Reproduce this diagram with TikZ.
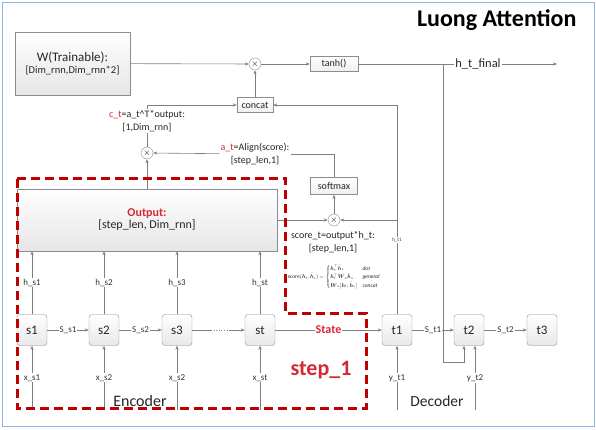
\documentclass[tikz,border=0pt]{standalone}
\usepackage{amsfonts}
\usepackage{amsmath}
\usepackage{fontspec}
\setmainfont{Carlito}
\usepackage{tikz}
\usetikzlibrary{arrows.meta,positioning}
\definecolor{linegray}{HTML}{7F7F7F}
\definecolor{boxline}{HTML}{8C8C8C}
\definecolor{darkred}{HTML}{C00000}
\definecolor{labred}{HTML}{D42A34}
\definecolor{framecol}{HTML}{8DB3E2}

\begin{document}
\begin{tikzpicture}[x=1pt,y=-1pt,>={Stealth[length=4pt,width=3.2pt]},%
                    wire/.style={draw=linegray,line width=.6pt},%
                    gbox/.style={draw=boxline,top color=white,bottom color=gray!20,align=center,text=black!85},%
                    smallbox/.style={draw=boxline,top color=white,bottom color=gray!12,inner sep=1.5pt,font=\fontsize{10}{12}\selectfont,text=black!85},%
                    mult/.style={draw=boxline,circle,fill=white,inner sep=0pt,minimum size=12pt,font=\fontsize{9}{9}\selectfont},%
                    lab/.style={fill=white,inner sep=1pt,font=\fontsize{9}{10}\selectfont,text=black!80},%
                    txt/.style={align=center,font=\fontsize{10}{12.5}\selectfont,text=black!85}]%
                    \useasboundingbox (0,0) rectangle (596,429); %%
                    \draw[framecol,line width=.8pt] (2,2) rectangle (594,426); %%
                    \node[anchor=east,font=\fontsize{24}{28}\selectfont\bfseries] (title) at (580,20) {Luong Attention}; %%
                    % attention part
                    \node[gbox,minimum width=115pt,minimum height=63pt] (W) at (72.5,63.5) {\fontsize{13}{16}\selectfont W(Trainable):\\{}\fontsize{10.5}{13}\selectfont [Dim\_rnn,Dim\_rnn*2]}; %%
                    \node[mult] (m1) at (255,64) {$\times$}; %%
                    \node[smallbox,minimum width=48pt,minimum height=15pt] (tanh) at (334,64) {tanh()}; %%
                    \node[font=\fontsize{12.5}{14}\selectfont,text=black!85,inner sep=1pt] (final) at (478,64) {h\_t\_final}; %%
                    \coordinate (jt) at (443,64); %%
                    \coordinate (htout) at (557,64); %%
                    \node[smallbox,minimum width=36pt,minimum height=15pt] (concat) at (255,105) {concat}; %%
                    \node[txt,fill=white,inner sep=1pt] (ctlab) at (147,121) {\textcolor{labred}{c\_t}=a\_t\textasciicircum T*output:\\{}[1,Dim\_rnn]}; %%
                    \node[mult] (m2) at (147,153) {$\times$}; %%
                    \node[txt,fill=white,inner sep=1pt] (atlab) at (255,154) {\textcolor{labred}{a\_t}=Align(score):\\{}[step\_len,1]}; %%
                    \node[smallbox,minimum width=47pt,minimum height=17pt] (softmax) at (334,186) {softmax}; %%
                    \node[gbox,minimum width=260pt,minimum height=62pt] (output) at (147,220) {\fontsize{12}{17}\selectfont\textcolor{labred}{\bfseries Output:}\\{}\fontsize{12}{17}\selectfont [step\_len, Dim\_rnn]}; %%
                    \node[mult] (m3) at (334,220) {$\times$}; %%
                    \node[txt] (sclab) at (333,242) {score\_t=output*h\_t:\\{}[step\_len,1]}; %%
                    \node[scale=.55,text=black!85] (formula) at (334,277) {$\mathrm{score}(\boldsymbol{h}_t,\bar{\boldsymbol{h}}_s)=\begin{cases}\boldsymbol{h}_t^\top\bar{\boldsymbol{h}}_s & \mathit{dot}\\[1pt] \boldsymbol{h}_t^\top\boldsymbol{W}_a\bar{\boldsymbol{h}}_s & \mathit{general}\\[1pt] \boldsymbol{W}_a[\boldsymbol{h}_t;\bar{\boldsymbol{h}}_s] & \mathit{concat}\end{cases}$}; %%
                    % encoder and decoder states
                    \begin{scope}
                        \tikzstyle{every node}=[draw=boxline,rounded corners=3pt,top color=white,bottom color=gray!18,minimum width=30pt,minimum height=31pt,font=\fontsize{13}{15}\selectfont,text=black!85];%%
                        \node (s1) at (32,330)  {s1}; %%
                        \node (s2) at (104,330)  {s2}; %%
                        \node (s3) at (177,330)  {s3}; %%
                        \node (st) at (260,330)  {st}; %%
                        \node (t1) at (397,330)  {t1}; %%
                        \node (t2) at (469,330)  {t2}; %%
                        \node (t3) at (542,330)  {t3}; %%
                    \end{scope}
                    \coordinate (xs1) at (32,410); %%
                    \coordinate (xs2) at (104,410); %%
                    \coordinate (xs3) at (177,410); %%
                    \coordinate (xst) at (260,410); %%
                    \coordinate (yt1) at (397,410); %%
                    \coordinate (yt2) at (475,410); %%
                    \coordinate (dotA) at (211,330); %%
                    \coordinate (dotB) at (229,330); %%
                    \coordinate (loopc) at (464,362); %%
                    \coordinate (ht1) at (397,105); %%
                    % connectors
                        \draw[wire,->] (W) -- (m1); %%
                        \draw[wire,->] (m1) -- (tanh); %%
                        \draw[wire] (tanh) -- (final); %%
                        \draw[wire,->] (final) -- (htout); %%
                        \draw[wire,->] (concat) -- (m1); %%
                        \draw[wire] (m2) -- (ctlab); %%
                        \draw[wire,->] (ctlab.north) |- (concat); %%
                        \draw[wire,->] (t1) -- (ht1) -- (concat); %%
                        \draw[wire,->] (t1 |- m3) -- (m3); %%
                        \draw[wire] (softmax) |- (atlab); %%
                        \draw[wire,->] (atlab) -- (m2); %%
                        \draw[wire,->] (m3) -- (softmax); %%
                        \draw[wire,->] (output) -- (m3); %%
                        \draw[wire,->] (output) -- (m2); %%
                        \node[lab,font=\fontsize{5}{6}\selectfont] (ht1lab) at (397,240) {h\_t1}; %%
                        \draw[wire,->] (s1) -- node[lab] {h\_s1} (s1 |- output.south); %%
                        \draw[wire,->] (s2) -- node[lab] {h\_s2} (s2 |- output.south); %%
                        \draw[wire,->] (s3) -- node[lab] {h\_s3} (s3 |- output.south); %%
                        \draw[wire,->] (st) -- node[lab] {h\_st} (st |- output.south); %%
                        \draw[wire,->] (xs1) -- node[lab] {x\_s1} (s1); %%
                        \draw[wire,->] (xs2) -- node[lab] {x\_s2} (s2); %%
                        \draw[wire,->] (xs3) -- node[lab] {x\_s2} (s3); %%
                        \draw[wire,->] (xst) -- node[lab] {x\_st} (st); %%
                        \draw[wire,->] (yt1) -- node[lab] {y\_t1} (t1); %%
                        \draw[wire,->] (yt2) -- node[lab] {y\_t2} (yt2 |- t2.south); %%
                        \draw[wire,->] (s1) -- node[lab] {S\_s1} (s2); %%
                        \draw[wire,->] (s2) -- node[lab] {S\_s2} (s3); %%
                        \draw[wire] (s3) -- (dotA); %%
                        \draw[wire,dotted,line width=.8pt] (dotA) -- (dotB); %%
                        \draw[wire,->] (dotB) -- (st); %%
                        \draw[wire,->] (st) -- node[lab,font=\fontsize{12}{14}\selectfont\bfseries,text=labred] {State} (t1); %%
                        \draw[wire,->] (t1) -- node[lab] {S\_t1} (t2); %%
                        \draw[wire,->] (t2) -- node[lab] {S\_t2} (t3); %%
                        \draw[wire,->] (jt) |- (loopc) -- (loopc |- t2.south); %%
                    % step box
                        \draw[darkred,line width=3pt,dash pattern=on 9pt off 5pt] (17,178) -- (285,178) -- (285,313) -- (366,313) -- (366,408) -- (17,408) -- cycle; %%
                        \node[font=\fontsize{22}{26}\selectfont\bfseries,text=labred] (step1) at (321,370) {step\_1}; %%
                        \node[font=\fontsize{16}{18}\selectfont,text=black!85,inner sep=1pt] (enc) at (140,401) {Encoder}; %%
                        \node[font=\fontsize{15.5}{18}\selectfont,text=black!85,inner sep=1pt] (dec) at (437,401) {Decoder}; %%
                    \end{tikzpicture}
\end{document}
